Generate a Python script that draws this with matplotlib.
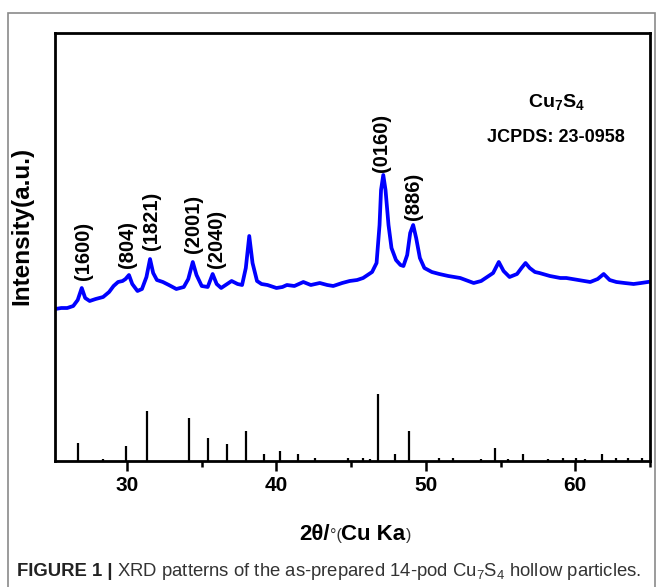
import matplotlib
matplotlib.use("Agg")
import matplotlib.pyplot as plt
from matplotlib.patches import Rectangle

# ---------------- data ----------------
two_theta = [25.2, 25.6, 26.0, 26.4, 26.7, 26.97, 27.2, 27.5, 27.9, 28.4, 28.8, 29.1, 29.4,
             29.7, 29.9, 30.13, 30.35, 30.7, 31.0, 31.3, 31.54, 31.75, 32.0, 32.4, 32.8,
             33.3, 33.8, 34.1, 34.4, 34.65, 35.0, 35.4, 35.73, 36.0, 36.3, 36.7, 37.0,
             37.4, 37.7, 37.95, 38.18, 38.4, 38.7, 39.0, 39.4, 40.0, 40.4, 40.7, 41.2,
             41.8, 42.3, 42.9, 43.4, 43.8, 44.4, 44.9, 45.4, 45.8, 46.1, 46.4, 46.7,
             46.9, 47.0, 47.15, 47.3, 47.5, 47.7, 48.0, 48.3, 48.5, 48.75, 48.95, 49.15,
             49.35, 49.6, 49.9, 50.4, 50.9, 51.5, 52.3, 53.2, 53.7, 54.1, 54.5, 54.88,
             55.2, 55.6, 56.1, 56.4, 56.67, 56.95, 57.3, 57.6, 58.3, 59.0, 59.4, 60.2,
             61.0, 61.5, 61.9, 62.3, 62.75, 63.3, 63.9, 64.4, 64.85]
intensity = [152, 153, 153, 155, 161, 173, 163, 160, 162, 164, 169, 175, 179,
             180, 182, 186, 177, 170, 172, 184, 202, 188, 181, 179, 176,
             172, 174, 182, 199, 186, 175, 174, 187, 177, 173, 177, 180,
             177, 176, 193, 225, 198, 180, 177, 176, 173, 174, 176, 175,
             179, 176, 178, 176, 175, 178, 180, 181, 183, 186, 189, 198,
             236, 271, 286, 271, 236, 213, 201, 196, 195, 206, 228, 236,
             223, 203, 193, 189, 187, 185, 183, 178, 180, 184, 188, 199,
             190, 184, 187, 193, 198, 193, 189, 188, 185, 183, 183, 181,
             179, 182, 187, 181, 179, 178, 177, 178, 179]

ref_pos = [26.7, 28.4, 29.9, 31.35, 34.15, 35.45, 36.7, 37.95, 39.14, 40.23, 41.42,
           42.56, 44.79, 45.82, 46.27, 46.83, 47.94, 48.87, 50.86, 51.84, 53.72,
           54.62, 55.47, 56.48, 58.2, 59.15, 60.03, 60.67, 61.78, 62.71, 63.53, 64.48]
ref_int = [18, 2, 15, 50, 43, 23, 17, 30, 7, 10, 7, 3, 3, 3, 2, 67, 7, 30, 3, 3, 2,
           13, 2, 7, 2, 3, 3, 2, 7, 3, 3, 3]

peak_labels = ["(1600)", "(804)", "(1821)", "(2001)", "(2040)", "(0160)", "(886)"]
label_x = [27.1, 30.0, 31.65, 34.45, 36.0, 47.0, 49.15]
label_y = [181, 193, 211, 208, 193, 289, 241]

xticks = [30, 40, 50, 60]

# ---------------- figure ----------------
W, H = 657, 587
fig = plt.figure(figsize=(W / 100, H / 100), dpi=100)
fig.patch.set_facecolor("white")

# outer light frame
fig.add_artist(Rectangle((8 / W, -0.05), (655 - 8) / W, (H - 13) / H + 0.05,
                         transform=fig.transFigure, fill=False,
                         edgecolor="#8a8a8a", linewidth=1.2))

ax_l, ax_r, ax_t, ax_b = 55, 650, 33, 461
ax = fig.add_axes([ax_l / W, (H - ax_b) / H, (ax_r - ax_l) / W, (ax_b - ax_t) / H])

ax.plot(two_theta, intensity, color="#0000ff", linewidth=2.7, solid_joinstyle="round")
ax.vlines(ref_pos, 0, ref_int, color="black", linewidth=1.6)

for lab, lx, ly in zip(peak_labels, label_x, label_y):
    ax.text(lx, ly, lab, rotation=90, ha="center", va="bottom",
            fontsize=14.5, fontweight="bold", family="Liberation Sans")

plt.rcParams["mathtext.fontset"] = "custom"
plt.rcParams["mathtext.bf"] = "Liberation Sans:bold"
plt.rcParams["mathtext.rm"] = "Liberation Sans"
plt.rcParams["mathtext.it"] = "Liberation Sans:italic"
ax.text(0.842, 0.838, r"Cu$_{\mathbf{7}}$S$_{\mathbf{4}}$", transform=ax.transAxes,
        ha="center", va="center", fontsize=14, fontweight="bold", family="Liberation Sans")
ax.text(0.842, 0.757, "JCPDS: 23-0958", transform=ax.transAxes,
        ha="center", va="center", fontsize=13, fontweight="bold", family="Liberation Sans")

ax.set_xlim(25.18, 64.98)
ax.set_ylim(0, ax_b - ax_t)
ax.set_xticks(xticks)
ax.set_xticks([35, 45, 55, 65], minor=True)
ax.set_yticks([])
ax.tick_params(axis="x", which="major", direction="out", length=7, width=1.8,
               labelsize=15, pad=4)
ax.tick_params(axis="x", which="minor", direction="out", length=4, width=1.8)
for lbl in ax.get_xticklabels():
    lbl.set_fontweight("bold")
    lbl.set_family("Liberation Sans")
for sp in ax.spines.values():
    sp.set_linewidth(2.0)

# y label
fig.text(22 / W, (H - 226) / H, "Intensity(a.u.)", rotation=90, ha="center", va="center",
         fontsize=17.5, fontweight="bold", family="Liberation Sans")

fig.canvas.draw()
r = fig.canvas.get_renderer()

def place_after(prev, txt, **kw):
    bb = prev.get_window_extent(r)
    x0 = bb.x1 / W
    y0 = prev.get_position()[1]
    t = fig.text(x0, y0, txt, ha="left", va="baseline", **kw)
    fig.canvas.draw()
    return t

# x label in pieces
t1 = fig.text(299 / W, (H - 540) / H, "2θ/", ha="left", va="baseline",
              fontsize=16, fontweight="bold", family="Liberation Sans")
fig.canvas.draw()
t2 = place_after(t1, "°(", fontsize=11.5, family="Liberation Sans", color="#333333")
t3 = place_after(t2, "Cu Ka", fontsize=16, fontweight="bold", family="Liberation Sans")
t4 = place_after(t3, ")", fontsize=11.5, family="Liberation Sans", color="#333333")

# caption, fitted to the reference width
cap_bold = "FIGURE 1 |"
cap_rest = " XRD patterns of the as-prepared 14-pod Cu$_{7}$S$_{4}$ hollow particles."
target_right = 641
fs = 13.0
for _ in range(3):
    c1 = fig.text(17 / W, (H - 576) / H, cap_bold, ha="left", va="baseline",
                  fontsize=fs, fontweight="bold", family="Liberation Sans", color="#222222")
    fig.canvas.draw()
    c2 = place_after(c1, cap_rest, fontsize=fs, family="Liberation Sans", color="#333333")
    right = c2.get_window_extent(r).x1
    if abs(right - target_right) < 2:
        break
    c1.remove()
    c2.remove()
    fs = fs * (target_right - 17) / (right - 17)

fig.savefig("out.png", dpi=100, facecolor="white")
